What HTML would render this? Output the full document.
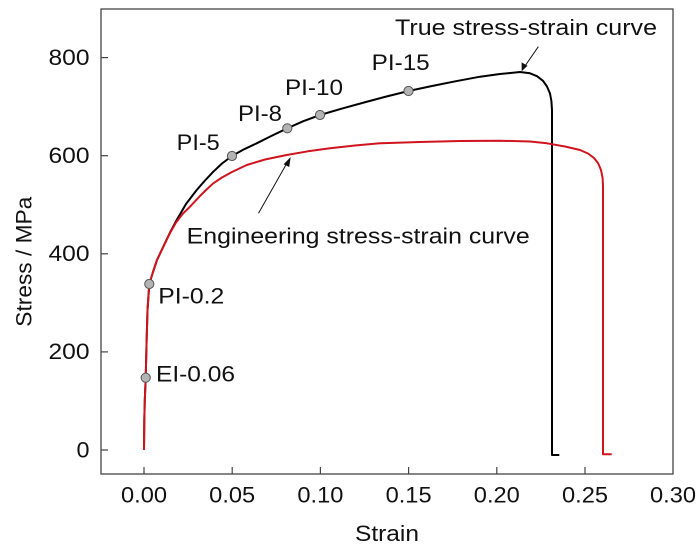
<!DOCTYPE html>
<html>
<head>
<meta charset="utf-8">
<style>
  html, body { margin: 0; padding: 0; background: #ffffff; }
  svg { display: block; }
  text { font-family: "Liberation Sans", Arial, sans-serif; fill: #111; }
</style>
</head>
<body>
<svg width="700" height="550" viewBox="0 0 700 550" xmlns="http://www.w3.org/2000/svg">
  <rect x="0" y="0" width="700" height="550" fill="#ffffff"/>

  <!-- frame -->
  <rect x="101" y="9" width="572" height="465" fill="none" stroke="#444" stroke-width="1.3"/>

  <!-- x ticks (inside) -->
  <g stroke="#444" stroke-width="1.2">
    <line x1="144" y1="474" x2="144" y2="467"/>
    <line x1="232.2" y1="474" x2="232.2" y2="467"/>
    <line x1="320.4" y1="474" x2="320.4" y2="467"/>
    <line x1="408.6" y1="474" x2="408.6" y2="467"/>
    <line x1="496.8" y1="474" x2="496.8" y2="467"/>
    <line x1="585" y1="474" x2="585" y2="467"/>
    <!-- y ticks -->
    <line x1="101" y1="450" x2="108" y2="450"/>
    <line x1="101" y1="351.9" x2="108" y2="351.9"/>
    <line x1="101" y1="253.8" x2="108" y2="253.8"/>
    <line x1="101" y1="155.7" x2="108" y2="155.7"/>
    <line x1="101" y1="57.6" x2="108" y2="57.6"/>
  </g>

  <!-- x tick labels -->
  <g font-size="22" text-anchor="middle">
    <text x="144" y="502.5" textLength="46" lengthAdjust="spacingAndGlyphs">0.00</text>
    <text x="232.2" y="502.5" textLength="46" lengthAdjust="spacingAndGlyphs">0.05</text>
    <text x="320.4" y="502.5" textLength="46" lengthAdjust="spacingAndGlyphs">0.10</text>
    <text x="408.6" y="502.5" textLength="46" lengthAdjust="spacingAndGlyphs">0.15</text>
    <text x="496.8" y="502.5" textLength="46" lengthAdjust="spacingAndGlyphs">0.20</text>
    <text x="585" y="502.5" textLength="46" lengthAdjust="spacingAndGlyphs">0.25</text>
    <text x="673" y="502.5" textLength="46" lengthAdjust="spacingAndGlyphs">0.30</text>
  </g>

  <!-- y tick labels -->
  <g font-size="22" text-anchor="end">
    <text x="89.5" y="457.5" textLength="13" lengthAdjust="spacingAndGlyphs">0</text>
    <text x="89.5" y="359.2" textLength="41" lengthAdjust="spacingAndGlyphs">200</text>
    <text x="89.5" y="261.1" textLength="41" lengthAdjust="spacingAndGlyphs">400</text>
    <text x="89.5" y="163" textLength="41" lengthAdjust="spacingAndGlyphs">600</text>
    <text x="89.5" y="64.9" textLength="41" lengthAdjust="spacingAndGlyphs">800</text>
  </g>

  <!-- axis titles -->
  <text x="387" y="541" font-size="22" text-anchor="middle" textLength="64" lengthAdjust="spacingAndGlyphs">Strain</text>
  <text transform="translate(31.5,261.7) rotate(-90)" x="0" y="0" font-size="22" text-anchor="middle" textLength="130" lengthAdjust="spacingAndGlyphs">Stress / MPa</text>

  <!-- true stress-strain (black) -->
  <polyline fill="none" stroke="#000" stroke-width="2" stroke-linejoin="round" points="
    144,450 144.3,420 144.8,400 145.7,378 146.5,345 147.5,310 149.3,284
    153,272 157,260 163.3,246.7 170,232.5 176.7,220 186,204 196.7,190
    205,180.5 213.3,171.7 222,163.5 232,156 244,149.3 256.7,143.3 272,135.6
    287.3,128.3 303,121.3 320,115 342,108.6 364,102.5 386,96.6 408.5,91
    432,86 456,81.2 480,76.7 500,74 520,72 530,73.3 537,76.2 543,80.8
    547,86.5 550,93.5 551.4,101 552,110 552,117 552,455 559.3,455"/>

  <!-- engineering stress-strain (red) -->
  <polyline fill="none" stroke="#d0141e" stroke-width="2" stroke-linejoin="round" points="
    144,450 144.3,420 144.8,400 145.7,378 146.5,345 147.5,310 149.3,284
    153,272 157,260 163.3,246.7 170,233 176,222.5 183,213.5 190,206.7
    200,196 206,190 213.3,183.3 222,177.5 232,172 246.7,165 265,159.5
    286.7,155 308,151.3 330,148.3 355,145.5 380,143.3 420,142 460,141
    500,140.7 530,141.5 547,143.3 565,146.5 580,150 588,153.5 594,158
    598,163 601,170 602.6,178 603,186 603,454.3 611.7,454.3"/>

  <!-- markers -->
  <g fill="#b4b4b4" stroke="#555" stroke-width="1">
    <circle cx="145.7" cy="377.7" r="4.6"/>
    <circle cx="149.3" cy="284" r="4.6"/>
    <circle cx="232" cy="156" r="4.6"/>
    <circle cx="287.3" cy="128.3" r="4.6"/>
    <circle cx="320" cy="115" r="4.6"/>
    <circle cx="408.5" cy="91" r="4.6"/>
  </g>

  <!-- arrows -->
  <line x1="258.5" y1="213.3" x2="287" y2="163" stroke="#111" stroke-width="1"/>
  <polygon points="290.7,157 283.6,164.3 289.2,167" fill="#111"/>
  <line x1="538.3" y1="46.7" x2="525" y2="66" stroke="#111" stroke-width="1"/>
  <polygon points="521.7,71.3 521.6,62.4 527.5,65.8" fill="#111"/>

  <!-- annotations -->
  <g font-size="22">
    <text x="176.7" y="150" textLength="43" lengthAdjust="spacingAndGlyphs">PI-5</text>
    <text x="238" y="121" textLength="44" lengthAdjust="spacingAndGlyphs">PI-8</text>
    <text x="285" y="95" textLength="58" lengthAdjust="spacingAndGlyphs">PI-10</text>
    <text x="371.7" y="70" textLength="58" lengthAdjust="spacingAndGlyphs">PI-15</text>
    <text x="158.3" y="303.3" textLength="66" lengthAdjust="spacingAndGlyphs">PI-0.2</text>
    <text x="156" y="381.7" textLength="79" lengthAdjust="spacingAndGlyphs">EI-0.06</text>
    <text x="395" y="35" textLength="262" lengthAdjust="spacingAndGlyphs">True stress-strain curve</text>
    <text x="186.7" y="243.3" textLength="343" lengthAdjust="spacingAndGlyphs">Engineering stress-strain curve</text>
  </g>
</svg>
</body>
</html>
